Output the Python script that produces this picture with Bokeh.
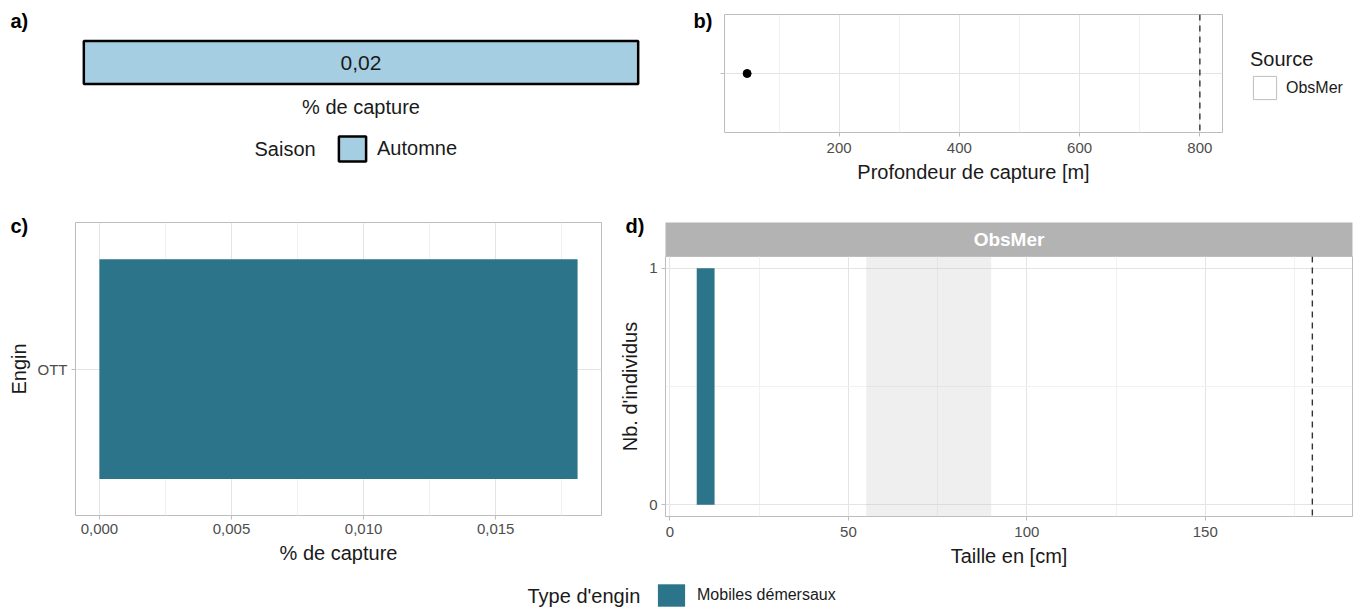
from bokeh.plotting import figure
from bokeh.layouts import row, column
from bokeh.models import (ColumnDataSource, Range1d, FactorRange, FixedTicker, Label,
                          Legend, LegendItem, Span, BoxAnnotation, CustomJSTickFormatter)
from bokeh.core.properties import value
from bokeh.embed import file_html
from bokeh.resources import INLINE

NAN = float("nan")

# ---------------- data ----------------
saison = ["Automne"]
saison_pct = [0.0181]
sources = ["ObsMer"]
depth = [47]
depth_max = [800]
b_ticks = [200, 400, 600, 800]
b_minor = [100, 300, 500, 700]
engin = ["OTT"]
engin_type = ["Mobiles démersaux"]
engin_pct = [0.0181]
c_ticks = [0.0, 0.005, 0.010, 0.015]
c_minor = [0.0025, 0.0075, 0.0125, 0.0175]
c_tick_labels = ["0,000", "0,005", "0,010", "0,015"]
size_bin_left = [7.5]
size_bin_right = [12.5]
size_counts = [1]
size_band = [55, 90]
size_max = [180]
d_xlim = [-1.25, 191.25]
d_ylim = [-0.05, 1.05]
d_xticks = [0, 50, 100, 150]
d_xminor = [25, 75, 125, 175]
d_yticks = [0, 1]
d_yminor = [0.5]

# ---------------- style ----------------
FONT = "Liberation Sans"
BORDER = "#BDBDBD"
GRID = "#E4E4E4"
MINOR = "#F1F1F1"
TICKLAB = "#4D4D4D"
TEXT = "#1A1A1A"
TEAL = "#2B7489"
LIGHTBLUE = "#A6CEE3"


def mkfig(w, h, l, r, t, b, xr, yr, **kw):
    p = figure(width=w, height=h, x_range=xr, y_range=yr, output_backend="svg",
               toolbar_location=None, min_border_left=l, min_border_right=r,
               min_border_top=t, min_border_bottom=b, **kw)
    p.background_fill_color = "white"
    p.border_fill_color = "white"
    return p


def style_axes(p, xstand=4):
    p.outline_line_color = BORDER
    p.outline_line_width = 1
    for ax in p.axis:
        ax.axis_line_color = None
        ax.major_tick_line_color = BORDER
        ax.major_tick_out = 4
        ax.major_tick_in = 0
        ax.minor_tick_line_color = None
        ax.major_label_standoff = 4
        ax.axis_label_standoff = 5
        ax.major_label_text_font = FONT
        ax.major_label_text_font_size = "15px"
        ax.major_label_text_color = TICKLAB
        ax.axis_label_text_font = FONT
        ax.axis_label_text_font_size = "20px"
        ax.axis_label_text_font_style = "normal"
        ax.axis_label_text_color = TEXT
    p.xaxis.major_label_standoff = xstand
    for g in p.grid:
        g.grid_line_color = GRID
        g.grid_line_width = 1
        g.minor_grid_line_color = MINOR
        g.minor_grid_line_width = 1


def panel_tag(p, txt, offset, standoff):
    t = p.title
    t.text = txt
    t.align = "left"
    t.offset = offset
    t.standoff = standoff
    t.text_font = FONT
    t.text_font_size = "20px"
    t.text_font_style = "bold"
    t.text_color = "black"


def dummy_quad(p, **kw):
    src = ColumnDataSource(dict(left=[NAN], right=[NAN], top=[NAN], bottom=[NAN]))
    return p.quad(source=src, left="left", right="right", top="top", bottom="bottom", **kw)


def bare(p):
    p.outline_line_color = None
    p.grid.visible = False


# ---------------- panel a ----------------
va = saison_pct[0]
figA = mkfig(680, 128, 80, 39, 37, 41,
             Range1d(-va * 0.006, va * 1.006), Range1d(-0.08, 1.08),
             y_axis_location=None)
bare(figA)
figA.quad(left=[0], right=saison_pct, bottom=[0], top=[1],
          fill_color=LIGHTBLUE, line_color="black", line_width=2.5)
lab_a = [("%.2f" % v).replace(".", ",") for v in saison_pct]
figA.text(x=[v / 2 for v in saison_pct], y=[0.5], text=lab_a,
          text_font=value(FONT), text_font_size="21px", text_color=TEXT,
          text_align="center", text_baseline="middle")
ax = figA.xaxis[0]
ax.ticker = FixedTicker(ticks=[])
ax.axis_line_color = None
ax.major_tick_line_color = None
ax.major_tick_out = 0
ax.major_label_standoff = 0
ax.axis_label = "% de capture"
ax.axis_label_standoff = 8
ax.axis_label_text_font = FONT
ax.axis_label_text_font_size = "20px"
ax.axis_label_text_font_style = "normal"
ax.axis_label_text_color = TEXT
panel_tag(figA, "a)", -70, 12)

figAleg = mkfig(680, 57, 80, 39, 0, 0, Range1d(0, 1), Range1d(0, 1),
                x_axis_location=None, y_axis_location=None)
bare(figAleg)
ra = dummy_quad(figAleg, fill_color=LIGHTBLUE, line_color="black", line_width=2.5)
figAleg.add_layout(Label(x=174, y=37, x_units="screen", y_units="screen", text="Saison",
                         text_font=FONT, text_font_size="20px", text_color=TEXT,
                         text_baseline="middle"))
legA = Legend(items=[LegendItem(label=value(saison[0]), renderers=[ra])],
              location=(255, 21), orientation="horizontal", padding=0, margin=0,
              glyph_width=34, glyph_height=31, label_standoff=8,
              label_text_font=FONT, label_text_font_size="20px", label_text_color=TEXT,
              border_line_color=None, background_fill_alpha=0)
figAleg.add_layout(legA)
colA = column(figA, figAleg)

# ---------------- panel b ----------------
lo_b = min(depth + depth_max)
hi_b = max(depth + depth_max)
pad_b = 0.05 * (hi_b - lo_b)
b_y = [i + 1 for i in range(len(sources))]
figB = mkfig(556, 185, 44, 14, 14, 51, Range1d(lo_b - pad_b, hi_b + pad_b),
             Range1d(0.4, len(sources) + 0.6))
figB.scatter(x=depth, y=b_y, size=8, color="black")
figB.add_layout(Span(location=depth_max[0], dimension="height", line_color="#333333",
                     line_dash="6 5", line_width=1.4))
style_axes(figB, xstand=6)
figB.xaxis.ticker = FixedTicker(ticks=b_ticks, minor_ticks=b_minor)
figB.yaxis.ticker = FixedTicker(ticks=b_y)
figB.yaxis.formatter = CustomJSTickFormatter(code="return '';")
figB.yaxis.major_label_standoff = 0
figB.xaxis.axis_label = "Profondeur de capture [m]"
panel_tag(figB, "b)", -31, -34)

figBleg = mkfig(126, 185, 0, 0, 14, 51, Range1d(0, 1), Range1d(0, 1),
                x_axis_location=None, y_axis_location=None)
bare(figBleg)
rb = dummy_quad(figBleg, fill_color="white", line_color="#BDBDBD", line_width=1)
legB = Legend(items=[LegendItem(label=value(sources[0]), renderers=[rb])],
              location=(14, 30), padding=0, margin=0, title="Source",
              title_text_font=FONT, title_text_font_size="20px",
              title_text_font_style="normal", title_text_color=TEXT, title_standoff=2,
              glyph_width=29, glyph_height=29, label_standoff=7,
              label_text_font=FONT, label_text_font_size="16px", label_text_color=TEXT,
              border_line_color=None, background_fill_alpha=0)
figBleg.add_layout(legB)
colB = row(figB, figBleg)

# ---------------- panel c ----------------
vc = max(engin_pct)
figC = mkfig(610, 388, 75, 9, 37, 58, Range1d(-0.05 * vc, 1.05 * vc),
             FactorRange(factors=engin, range_padding=0.2))
figC.hbar(y=engin, left=0, right=engin_pct, height=0.9, fill_color=TEAL, line_color=None)
style_axes(figC)
figC.xaxis.ticker = FixedTicker(ticks=c_ticks, minor_ticks=c_minor)
figC.xaxis.formatter = CustomJSTickFormatter(
    args=dict(tv=c_ticks, tl=c_tick_labels),
    code="for (let i = 0; i < tv.length; i++) { if (Math.abs(tv[i] - tick) < 1e-9) return tl[i]; } return '';")
figC.xaxis.axis_label = "% de capture"
figC.yaxis.axis_label = "Engin"
panel_tag(figC, "c)", -65, -28)

# ---------------- panel d ----------------
strip = mkfig(752, 71, 55, 10, 37, 0, Range1d(0, 1), Range1d(0, 1),
              x_axis_location=None, y_axis_location=None)
strip.background_fill_color = "#B3B3B3"
strip.outline_line_color = None
strip.grid.visible = False
strip.text(x=[0.5], y=[0.5], text=sources, text_font=value(FONT), text_font_size="19px",
           text_font_style="bold", text_color="white", text_align="center",
           text_baseline="middle")
panel_tag(strip, "d)", -40, -28)

figD = mkfig(752, 317, 55, 10, 0, 57, Range1d(*d_xlim), Range1d(*d_ylim))
figD.add_layout(BoxAnnotation(left=size_band[0], right=size_band[1], fill_color="#BEBEBE",
                              fill_alpha=0.25, line_color=None, level="underlay"))
figD.quad(left=size_bin_left, right=size_bin_right, bottom=[0] * len(size_counts),
          top=size_counts, fill_color=TEAL, line_color=None)
figD.add_layout(Span(location=size_max[0], dimension="height", line_color="#333333",
                     line_dash="6 5", line_width=1.4))
style_axes(figD, xstand=6)
figD.xaxis.ticker = FixedTicker(ticks=d_xticks, minor_ticks=d_xminor)
figD.yaxis.ticker = FixedTicker(ticks=d_yticks, minor_ticks=d_yminor)
figD.xaxis.axis_label = "Taille en [cm]"
figD.yaxis.axis_label = "Nb. d'individus"
colD = column(strip, figD)

# ---------------- bottom legend ----------------
legfig = mkfig(1362, 40, 0, 0, 0, 0, Range1d(0, 1), Range1d(0, 1),
               x_axis_location=None, y_axis_location=None)
bare(legfig)
rl = dummy_quad(legfig, fill_color=TEAL, line_color=None)
legfig.add_layout(Label(x=527, y=18, x_units="screen", y_units="screen", text="Type d'engin",
                        text_font=FONT, text_font_size="20px", text_color=TEXT,
                        text_baseline="middle"))
legL = Legend(items=[LegendItem(label=value(engin_type[0]), renderers=[rl])],
              location=(654, 4), orientation="horizontal", padding=0, margin=0,
              glyph_width=34, glyph_height=28, label_standoff=9,
              label_text_font=FONT, label_text_font_size="16px", label_text_color=TEXT,
              border_line_color=None, background_fill_alpha=0)
legfig.add_layout(legL)

root = column(row(colA, colB), row(figC, colD), legfig)
open("out.html", "w").write(file_html(root, INLINE))
